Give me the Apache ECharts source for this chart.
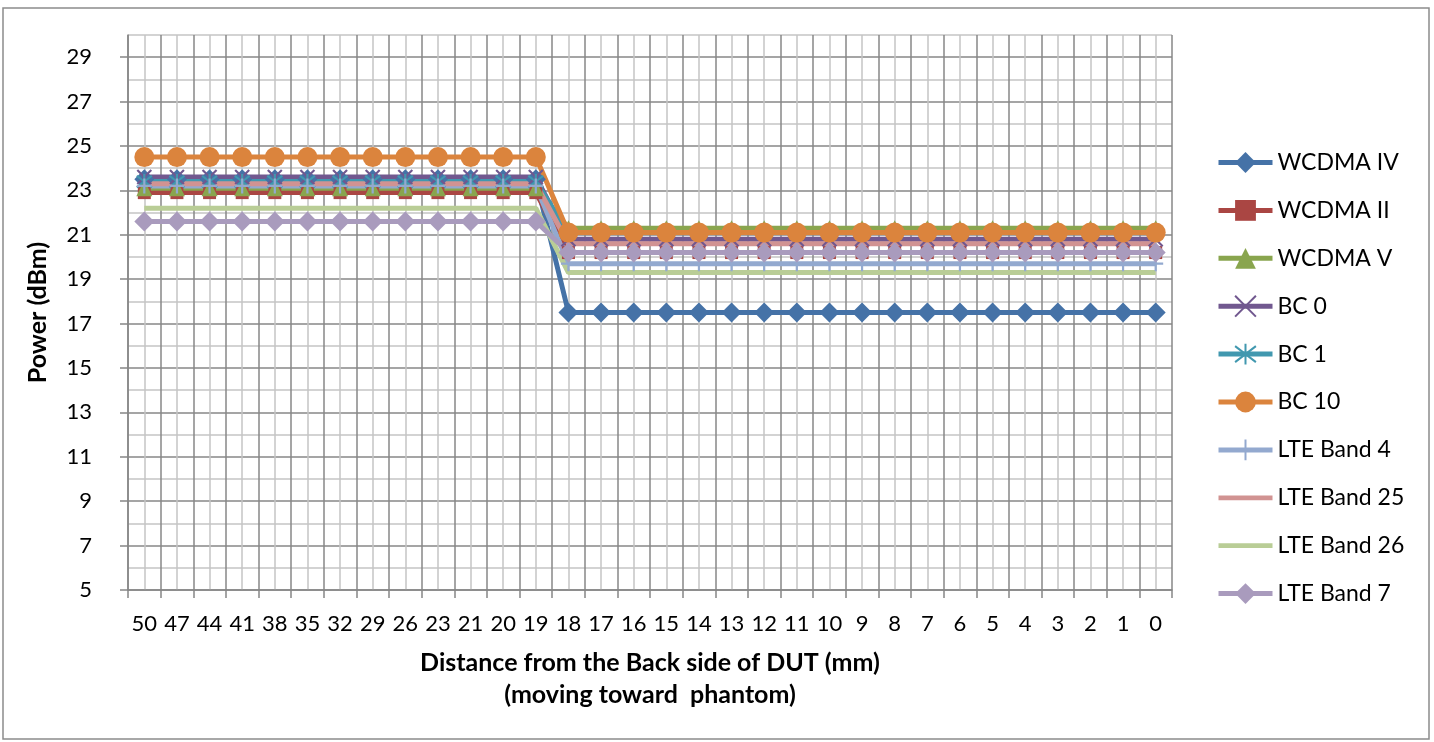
<!DOCTYPE html>
<html>
<head>
<meta charset="utf-8">
<script src="https://cdn.jsdelivr.net/npm/echarts@6/dist/echarts.min.js"></script>
<style>
html,body{margin:0;padding:0;background:#fff;}
#chart{width:1434px;height:742px;}
</style>
</head>
<body>
<div id="chart"></div>
<script>
const categories = ['50','47','44','41','38','35','32','29','26','23','21','20','19','18','17','16','15','14','13','12','11','10','9','8','7','6','5','4','3','2','1','0'];

const wcdmaIV   = [23.5,23.5,23.5,23.5,23.5,23.5,23.5,23.5,23.5,23.5,23.5,23.5,23.5, 17.5,17.5,17.5,17.5,17.5,17.5,17.5,17.5,17.5,17.5,17.5,17.5,17.5,17.5,17.5,17.5,17.5,17.5,17.5];
const wcdmaII   = [22.9,22.9,22.9,22.9,22.9,22.9,22.9,22.9,22.9,22.9,22.9,22.9,22.9, 20.2,20.2,20.2,20.2,20.2,20.2,20.2,20.2,20.2,20.2,20.2,20.2,20.2,20.2,20.2,20.2,20.2,20.2,20.2];
const wcdmaV    = [23.1,23.1,23.1,23.1,23.1,23.1,23.1,23.1,23.1,23.1,23.1,23.1,23.1, 21.3,21.3,21.3,21.3,21.3,21.3,21.3,21.3,21.3,21.3,21.3,21.3,21.3,21.3,21.3,21.3,21.3,21.3,21.3];
const bc0       = [23.6,23.6,23.6,23.6,23.6,23.6,23.6,23.6,23.6,23.6,23.6,23.6,23.6, 20.8,20.8,20.8,20.8,20.8,20.8,20.8,20.8,20.8,20.8,20.8,20.8,20.8,20.8,20.8,20.8,20.8,20.8,20.8];
const bc1       = [23.4,23.4,23.4,23.4,23.4,23.4,23.4,23.4,23.4,23.4,23.4,23.4,23.4, 21.1,21.1,21.1,21.1,21.1,21.1,21.1,21.1,21.1,21.1,21.1,21.1,21.1,21.1,21.1,21.1,21.1,21.1,21.1];
const bc10      = [24.5,24.5,24.5,24.5,24.5,24.5,24.5,24.5,24.5,24.5,24.5,24.5,24.5, 21.1,21.1,21.1,21.1,21.1,21.1,21.1,21.1,21.1,21.1,21.1,21.1,21.1,21.1,21.1,21.1,21.1,21.1,21.1];
const lteBand4  = [23.2,23.2,23.2,23.2,23.2,23.2,23.2,23.2,23.2,23.2,23.2,23.2,23.2, 19.7,19.7,19.7,19.7,19.7,19.7,19.7,19.7,19.7,19.7,19.7,19.7,19.7,19.7,19.7,19.7,19.7,19.7,19.7];
const lteBand25 = [23.3,23.3,23.3,23.3,23.3,23.3,23.3,23.3,23.3,23.3,23.3,23.3,23.3, 20.6,20.6,20.6,20.6,20.6,20.6,20.6,20.6,20.6,20.6,20.6,20.6,20.6,20.6,20.6,20.6,20.6,20.6,20.6];
const lteBand26 = [22.2,22.2,22.2,22.2,22.2,22.2,22.2,22.2,22.2,22.2,22.2,22.2,22.2, 19.3,19.3,19.3,19.3,19.3,19.3,19.3,19.3,19.3,19.3,19.3,19.3,19.3,19.3,19.3,19.3,19.3,19.3,19.3];
const lteBand7  = [21.6,21.6,21.6,21.6,21.6,21.6,21.6,21.6,21.6,21.6,21.6,21.6,21.6, 20.2,20.2,20.2,20.2,20.2,20.2,20.2,20.2,20.2,20.2,20.2,20.2,20.2,20.2,20.2,20.2,20.2,20.2,20.2];

const FONT = 'Lato, "Open Sans", sans-serif';
const MAJOR = '#878787', MINOR = '#c4c4c4';

const SYM_X = 'path://M0,0L10,10M10,0L0,10';
const SYM_AST = 'path://M0,0L10,10M10,0L0,10M5,-1.5L5,11.5';
const SYM_PLUS = 'path://M5,0L5,10M0,5L10,5';
const LINE_ICON = 'path://M0,0L56,0L56,5L0,5Z';

function mk(name, data, color, symbol, size, stroked) {
  return {
    name: name, type: 'line', data: data,
    xAxisIndex: 0, yAxisIndex: 0,
    symbol: symbol, symbolSize: size, showSymbol: symbol !== 'none',
    lineStyle: {color: color, width: 5},
    itemStyle: stroked ? {color: color, borderColor: color, borderWidth: 2.2} : {color: color, borderColor: color, borderWidth: 0},
    emphasis: {disabled: true},
    z: 3
  };
}

const series = [
  mk('WCDMA IV', wcdmaIV, '#4572A7', 'diamond', 20),
  mk('WCDMA II', wcdmaII, '#AA4643', 'rect', 13),
  mk('WCDMA V', wcdmaV, '#89A54E', 'triangle', 16),
  mk('BC 0', bc0, '#71588F', SYM_X, 14, true),
  mk('BC 1', bc1, '#4198AF', SYM_AST, 15, true),
  mk('BC 10', bc10, '#DB843D', 'circle', 20),
  mk('LTE Band 4', lteBand4, '#93A9CF', SYM_PLUS, 15, true),
  mk('LTE Band 25', lteBand25, '#D19392', 'none', 0),
  mk('LTE Band 26', lteBand26, '#B9CD96', 'none', 0),
  mk('LTE Band 7', lteBand7, '#A99BBD', 'diamond', 20)
];

const legendData = series.map(s => s.symbol === 'none' ? {name: s.name, icon: LINE_ICON} : {name: s.name});

const chart = echarts.init(document.getElementById('chart'), null, {renderer: 'canvas'});
chart.setOption({
  animation: false,
  backgroundColor: '#fff',
  textStyle: {fontFamily: FONT},
  graphic: [{
    type: 'rect', silent: true, z: -1,
    shape: {x: 3, y: 8, width: 1426, height: 731},
    style: {fill: 'none', stroke: '#8c8c8c', lineWidth: 1.5}
  }],
  grid: {left: 128, right: 262, top: 35, bottom: 152, containLabel: false},
  legend: {
    orient: 'vertical', left: 1211, top: 146,
    itemWidth: 54, itemHeight: 26, itemGap: 24.9,
    lineStyle: {width: 5},
    textStyle: {fontSize: 23, color: '#000', fontFamily: FONT},
    data: legendData
  },
  xAxis: [{
    type: 'category', data: categories, boundaryGap: true,
    name: 'Distance from the Back side of DUT (mm)\n(moving toward  phantom)',
    nameLocation: 'middle', nameGap: 57,
    nameTextStyle: {fontSize: 25, fontWeight: 'bold', color: '#000', lineHeight: 32, fontFamily: FONT},
    axisLine: {lineStyle: {color: MAJOR, width: 1.5}},
    axisTick: {show: true, length: 8, lineStyle: {color: MAJOR, width: 1.5}},
    axisLabel: {fontSize: 22, color: '#000', margin: 23, interval: 0, fontFamily: FONT},
    splitLine: {show: false}
  }, {
    type: 'value', min: -0.5, max: 31.5, interval: 0.5, position: 'bottom',
    axisLine: {show: false}, axisTick: {show: false}, axisLabel: {show: false},
    splitLine: {show: true, lineStyle: {color: [MAJOR, MINOR], width: 1.5}}
  }],
  yAxis: [{
    type: 'value', min: 5, max: 30, interval: 1,
    axisLine: {show: false}, axisTick: {show: false}, axisLabel: {show: false},
    splitLine: {show: true, lineStyle: {color: [MAJOR, MINOR], width: 1.5}}
  }, {
    type: 'value', min: 5, max: 30, interval: 2, position: 'left',
    name: 'Power (dBm)', nameLocation: 'middle', nameGap: 78,
    nameTextStyle: {fontSize: 25, fontWeight: 'bold', color: '#000', fontFamily: FONT},
    axisLine: {show: true, lineStyle: {color: MAJOR, width: 1.5}},
    axisTick: {show: true, length: 8, lineStyle: {color: MAJOR, width: 1.5}},
    axisLabel: {fontSize: 22, color: '#000', margin: 36, showMaxLabel: false, fontFamily: FONT},
    splitLine: {show: false}
  }],
  series: series
});
</script>
</body>
</html>
